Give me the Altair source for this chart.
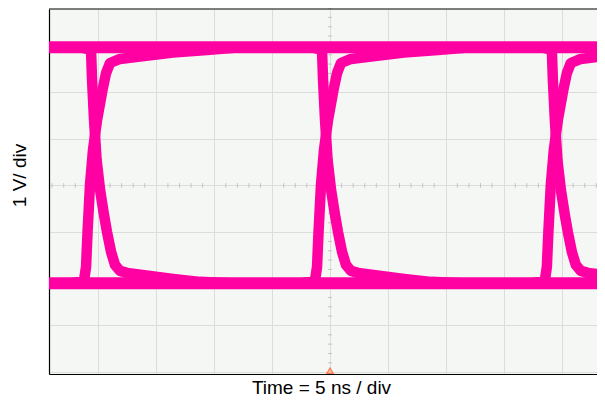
import altair as alt
import pandas as pd

# Visible window of the scope screen (ns, V); 5 ns / div, 1 V / div
x_domain = [-24.27, 23.06]
y_domain = [-4.04, 3.78]

# Logic levels of the eye (V)
high_level = 2.96
low_level = -2.098

# Positions of the three crossings relative to the first one (ns)
crossing_offsets = [0.0, 19.95, 39.8]

# Rising edge of the first crossing (ns, V)
rise_t = [-22.45, -21.25, -21.07, -20.94, -20.73, -20.47, -20.12, -19.65,
          -19.34, -19.00, -18.14, -16.41, -13.56, -10.62, -7.77]
rise_v = [-2.098, -2.045, -1.745, -0.996, 0.011, 0.760, 1.403, 2.045,
          2.409, 2.623, 2.709, 2.762, 2.848, 2.901, 2.96]

# Falling edge of the first crossing (ns, V)
fall_t = [-21.59, -20.64, -20.55, -20.38, -20.16, -19.86, -19.52, -19.26,
          -18.91, -18.57, -18.14, -17.53, -15.54, -13.56, -11.23, -8.64]
fall_v = [2.96, 2.901, 2.259, 1.403, 0.546, -0.096, -0.632, -0.996,
          -1.424, -1.702, -1.831, -1.874, -1.938, -2.002, -2.066, -2.098]

# Graticule
grid_t = [-20, -15, -10, -5, 0, 5, 10, 15, 20]
grid_v = [-4, -3, -2, -1, 0, 1, 2, 3]
minor_t = [t for t in range(-24, 24) if t % 5 != 0]
minor_v = [round(-4 + 0.2 * i, 2) for i in range(40) if i % 5 != 0]

TRACE = "#ff00a3"
FONT = "Liberation Sans"

rows = []
for k, off in enumerate(crossing_offsets):
    for i, (t, v) in enumerate(zip(rise_t, rise_v)):
        rows.append({"t": t + off, "v": v, "g": f"rise{k}", "o": i})
    for i, (t, v) in enumerate(zip(fall_t, fall_v)):
        rows.append({"t": t + off, "v": v, "g": f"fall{k}", "o": i})
edges = pd.DataFrame(rows)

levels = pd.DataFrame({
    "t": [-30, 30, -30, 30],
    "v": [high_level, high_level, low_level, low_level],
    "g": ["hi", "hi", "lo", "lo"],
    "o": [0, 1, 0, 1],
})

xs = alt.Scale(domain=x_domain, nice=False, zero=False)
ys = alt.Scale(domain=y_domain, nice=False, zero=False)

x_axis = alt.Axis(values=grid_t, labels=False, ticks=False,
                  domain=True, domainColor="#000000", domainWidth=1.2,
                  grid=True, gridColor="#dcdcdc", gridWidth=1,
                  title="Time = 5 ns / div", titleFont=FONT, titleFontSize=19,
                  titleFontWeight="normal", titleColor="#000000",
                  titleX=272, titleY=19, titleBaseline="alphabetic")
y_axis = alt.Axis(values=grid_v, labels=False, ticks=False,
                  domain=True, domainColor="#000000", domainWidth=1.2,
                  grid=True, gridColor="#dcdcdc", gridWidth=1,
                  title="1 V/ div", titleFont=FONT, titleFontSize=19,
                  titleFontWeight="normal", titleColor="#000000",
                  titleX=-24, titleY=166, titleBaseline="alphabetic")

# minor ticks on the centre lines
mt = pd.DataFrame({"t": minor_t})
mv = pd.DataFrame({"v": minor_v})
minor_x = alt.Chart(mt).mark_rule(color="#c4c4c4", strokeWidth=1).encode(
    x=alt.X("t:Q", scale=xs, axis=x_axis),
    y=alt.datum(-0.05, scale=ys), y2=alt.datum(0.05),
)
minor_y = alt.Chart(mv).mark_rule(color="#c4c4c4", strokeWidth=1).encode(
    y=alt.Y("v:Q", scale=ys, axis=y_axis),
    x=alt.datum(-0.17, scale=xs), x2=alt.datum(0.17),
)

level_lines = alt.Chart(levels).mark_line(
    clip=True, strokeWidth=12, color=TRACE
).encode(
    x=alt.X("t:Q", scale=xs), y=alt.Y("v:Q", scale=ys),
    detail="g:N", order="o:Q",
)

edge_lines = alt.Chart(edges).mark_line(
    clip=True, strokeWidth=10.5, color=TRACE, strokeJoin="round"
).encode(
    x=alt.X("t:Q", scale=xs), y=alt.Y("v:Q", scale=ys),
    detail="g:N", order="o:Q",
)

top_border = alt.Chart(pd.DataFrame({"v": [y_domain[1]]})).mark_rule(
    color="#000000", strokeWidth=1.2
).encode(y=alt.Y("v:Q", scale=ys))

marker = alt.Chart(pd.DataFrame({"t": [0.0], "v": [-3.97]})).mark_point(
    shape="triangle-up", size=40, filled=True, fill="#ffc2a8",
    stroke="#ff7a50", strokeWidth=1.2, opacity=1
).encode(x=alt.X("t:Q", scale=xs), y=alt.Y("v:Q", scale=ys))

chart = alt.layer(minor_x, minor_y, level_lines, edge_lines, marker,
                  top_border).properties(
    width=548, height=365,
    padding={"left": 41, "top": 1, "right": 0, "bottom": 23},
    autosize=alt.AutoSizeParams(type="none"),
).configure_view(fill="#f4f7f4", stroke=None)

chart.save("out.html", embed_options={"renderer": "svg", "actions": False})
